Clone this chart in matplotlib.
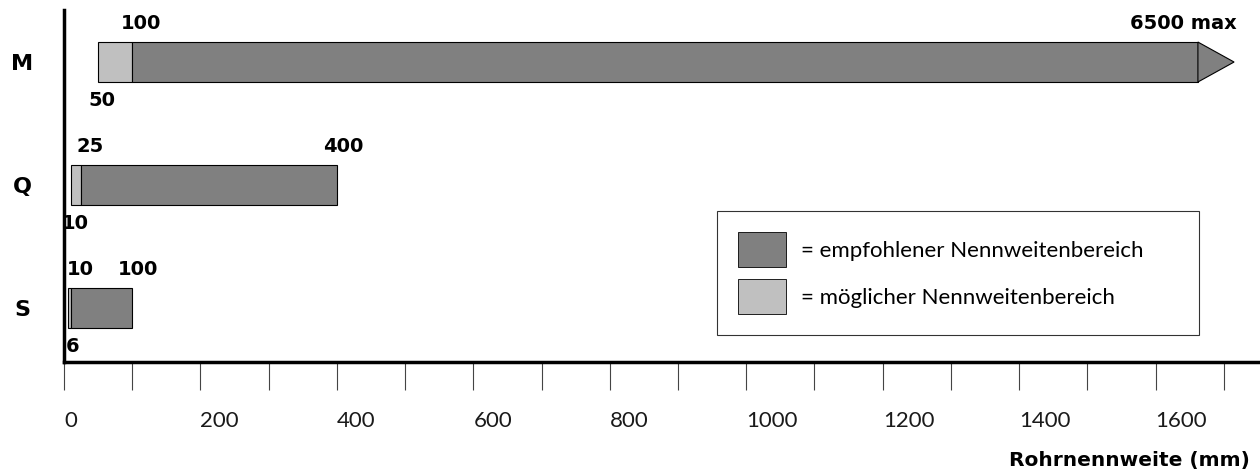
import matplotlib
matplotlib.use("Agg")
import matplotlib.pyplot as plt
from matplotlib.patches import Rectangle, Polygon, Patch

# ------------------------------------------------------------
# Data (Nennweiten in mm)
# ------------------------------------------------------------
series = ["S", "Q", "M"]
possible_min = [6, 10, 50]          # Beginn moeglicher Bereich
recommended_min = [10, 25, 100]     # Beginn empfohlener Bereich
recommended_max = [100, 400, 6500]  # Ende (M: 6500 max)
max_suffix = ["", "", " max"]

tick_values = list(range(0, 1800, 100))
tick_labels = [str(v) if v % 200 == 0 else "" for v in tick_values]

AXIS_BREAK = 1662   # where the open-ended bar is cut and the arrow starts
ARROW_LEN = 53

DARK = "#808080"
LIGHT = "#c0c0c0"
BOLD = dict(family="DejaVu Sans", fontweight="bold")

plt.rcParams["font.family"] = ["Lato", "DejaVu Sans"]

fig = plt.figure(figsize=(12.6, 4.75), dpi=100)
ax = fig.add_axes([64 / 1260, 113 / 475, 1196 / 1260, 352 / 475])
ax.set_xlim(0, 1753)
ax.set_ylim(-0.439, 2.423)

bar_h = 0.325
lbl_size = 14
for i, name in enumerate(series):
    y0 = i - bar_h / 2
    lo, mid, hi = possible_min[i], recommended_min[i], recommended_max[i]
    end = min(hi, AXIS_BREAK)
    ax.add_patch(Rectangle((lo, y0), mid - lo, bar_h, fc=LIGHT, ec="black", lw=0.8))
    ax.add_patch(Rectangle((mid, y0), end - mid, bar_h, fc=DARK, ec="black", lw=0.8))
    if hi > AXIS_BREAK:
        ax.add_patch(Polygon([(end, y0), (end + ARROW_LEN, i), (end, y0 + bar_h)],
                             closed=True, fc=DARK, ec="black", lw=0.8))
        ax.annotate(f"{hi}{max_suffix[i]}", xy=(end + ARROW_LEN, y0 + bar_h),
                    xytext=(3, 9), textcoords="offset pixels",
                    ha="right", va="bottom", fontsize=lbl_size, **BOLD)
    else:
        ax.annotate(f"{hi}{max_suffix[i]}", xy=(hi, y0 + bar_h),
                    xytext=(6, 9), textcoords="offset pixels",
                    ha="center", va="bottom", fontsize=lbl_size, **BOLD)
    # recommended start (above)
    ax.annotate(str(mid), xy=(mid, y0 + bar_h), xytext=(9, 9),
                textcoords="offset pixels", ha="center", va="bottom",
                fontsize=lbl_size, **BOLD)
    # possible start (below)
    ax.annotate(str(lo), xy=(lo, y0), xytext=(4, -9),
                textcoords="offset pixels", ha="center", va="top",
                fontsize=lbl_size, **BOLD)

# axes styling
for side in ["top", "right"]:
    ax.spines[side].set_visible(False)
ax.spines["left"].set_linewidth(2.5)
ax.spines["bottom"].set_linewidth(2.5)

ax.set_xticks(tick_values)
ax.set_xticklabels(tick_labels, fontsize=16, color="#1a1a1a")
ax.tick_params(axis="x", direction="out", length=20, width=0.8,
               color="#444444", pad=15)
for lbl in ax.get_xticklabels():
    lbl.set_ha("left")

ax.set_yticks(range(len(series)))
ax.set_yticklabels(series, fontsize=16, **BOLD)
ax.tick_params(axis="y", length=0, pad=30)
for lbl in ax.get_yticklabels():
    lbl.set_ha("center")

fig.text(1250 / 1260, 9 / 475, "Rohrnennweite (mm)", ha="right", va="baseline",
         fontsize=14.5, **BOLD)

# legend
handles = [Patch(fc=DARK, ec="black", lw=0.6), Patch(fc=LIGHT, ec="black", lw=0.6)]
labels = ["= empfohlener Nennweitenbereich", "= möglicher Nennweitenbereich"]
leg = ax.legend(handles, labels, loc="upper left", mode="expand",
                bbox_to_anchor=(0.546, 0.0, 0.403, (362 - 211) / 352),
                fontsize=16, frameon=True, fancybox=False, borderaxespad=0,
                handlelength=2.16, handleheight=2.05, handletextpad=0.68,
                labelspacing=0.54, borderpad=0.95)
leg.get_frame().set_edgecolor("black")
leg.get_frame().set_linewidth(0.8)

fig.savefig("out.png", dpi=100)
